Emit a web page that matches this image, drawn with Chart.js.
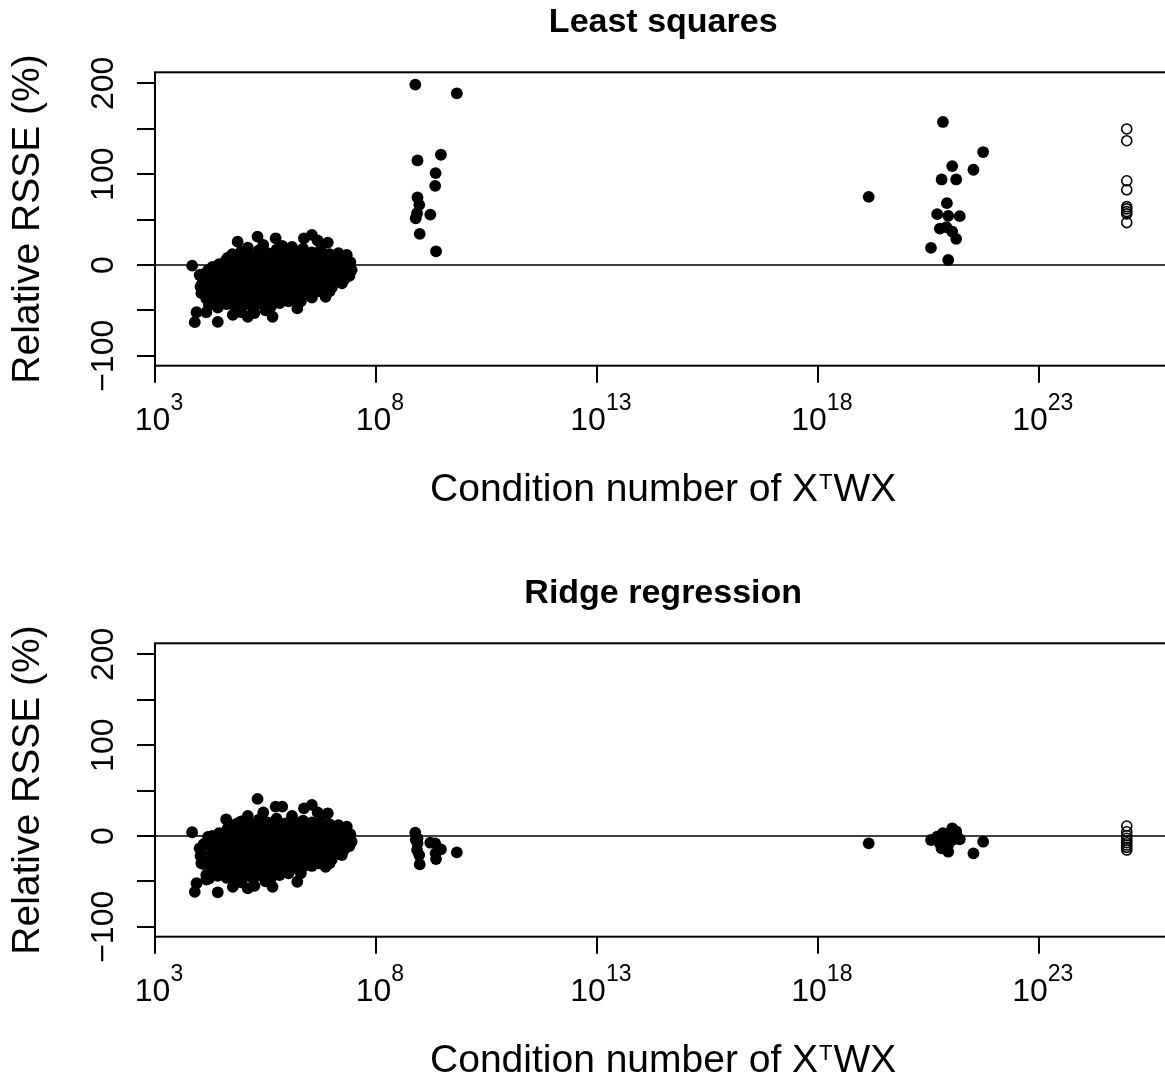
<!DOCTYPE html>
<html>
<head>
<meta charset="utf-8">
<script src="https://cdn.jsdelivr.net/npm/chart.js@4.4.1/dist/chart.umd.min.js"></script>
<style>
html, body { margin: 0; padding: 0; background: #fff; overflow: hidden; width: 1165px; height: 1078px; }
#wrap { position: relative; width: 1165px; height: 1078px; overflow: hidden; background: #fff; }
canvas { position: absolute; left: 0; }
#c1 { top: 0; }
#c2 { top: 571px; }
</style>
</head>
<body>
<div id="wrap">
  <canvas id="c1" width="1178" height="539"></canvas>
  <canvas id="c2" width="1178" height="507"></canvas>
</div>
<script>
// ---------------- DATA ----------------
// x values are stored as log10(condition number of X^T W X)

// well-conditioned problems (dense cluster), read row by row
const condWell = [
  4.87, 5.32, 5.45, 5.73, 5.88, 6.37, 6.55, 6.68, 6.91, 5.10, 6.10, 4.61,
  4.75, 4.95, 5.15, 5.35, 5.55, 5.75, 5.95, 6.15, 6.35, 6.55, 6.75, 6.95, 7.15, 7.34,
  4.65, 4.85, 5.05, 5.25, 5.45, 5.65, 5.85, 6.05, 6.25, 6.45, 6.65, 6.85, 7.05, 7.25,
  4.45, 4.62, 4.82, 5.02, 5.22, 5.42, 5.62, 5.82, 6.02, 6.22, 6.42, 6.62, 6.82, 7.02, 7.22, 7.42,
  4.30, 4.50, 4.70, 4.90, 5.10, 5.30, 5.50, 5.70, 5.90, 6.10, 6.30, 6.50, 6.70, 6.90, 7.10, 7.32,
  3.84, 4.20, 4.38, 4.55, 4.72, 4.92, 5.12, 5.32, 5.52, 5.72, 5.92, 6.12, 6.32, 6.52, 6.72, 6.92, 7.12, 7.30, 7.45,
  4.10, 4.28, 4.46, 4.64, 4.82, 5.00, 5.20, 5.40, 5.60, 5.80, 6.00, 6.20, 6.40, 6.60, 6.80, 7.00, 7.20, 7.38,
  4.01, 4.10, 4.30, 4.48, 4.68, 4.88, 5.08, 5.28, 5.48, 5.68, 5.88, 6.08, 6.28, 6.48, 6.68, 6.88, 7.08, 7.28, 7.40,
  4.06, 4.24, 4.42, 4.60, 4.78, 4.98, 5.18, 5.38, 5.58, 5.78, 5.98, 6.18, 6.38, 6.58, 6.78, 6.98, 7.18,
  4.03, 4.20, 4.40, 4.60, 4.80, 5.00, 5.20, 5.40, 5.60, 5.80, 6.00, 6.20, 6.40, 6.60, 6.80, 7.00, 7.23,
  4.10, 4.30, 4.50, 4.70, 4.90, 5.10, 5.30, 5.50, 5.70, 5.90, 6.10, 6.30, 6.50, 6.70, 6.95,
  4.05, 4.16, 4.35, 4.55, 4.75, 4.95, 5.15, 5.35, 5.55, 5.75, 5.95, 6.15, 6.35, 6.55, 6.86,
  4.25, 4.45, 4.65, 4.85, 5.05, 5.25, 5.45, 5.65, 5.85, 6.05, 6.30,
  4.22, 4.42, 4.62, 4.82, 5.02, 5.22, 5.42, 5.62, 5.82, 6.02, 6.22,
  3.94, 3.90, 4.16, 4.42, 4.76, 4.95, 5.10, 5.25, 5.50, 5.66
];
const lsWell = [
  25.7, 31.2, 22, 29.4, 21, 29.4, 33.1, 27, 24.6, 19, 20, 5.5,
  12, 15, 11, 16, 13, 17, 12, 15, 18, 14, 17, 12, 13, 11,
  8, 10, 7, 9, 11, 8, 9, 10, 7, 11, 9, 8, 10, 7,
  1, 4, 2, 6, 3, 5, 2, 6, 3, 5, 2, 6, 3, 5, 2, 3,
  -2, 0, -1, -3, 1, -2, 0, -1, -3, 0, -2, 1, -1, -2, 0, -1,
  -0.7, -6, -4, -8, -5, -9, -4, -7, -5, -9, -4, -8, -5, -9, -4, -7, -5, -8, -5.5,
  -10, -12, -9, -11, -13, -10, -12, -9, -11, -10, -13, -11, -9, -12, -10, -11, -9, -10,
  -11, -16, -14, -18, -13, -17, -15, -19, -14, -18, -15, -17, -13, -18, -14, -17, -13, -16, -12,
  -21, -19, -22, -20, -21, -19, -22, -20, -21, -20, -19, -22, -20, -21, -19, -21, -18,
  -24, -27, -23, -28, -24, -27, -23, -28, -25, -27, -23, -26, -24, -27, -23, -25, -20.2,
  -30, -31, -29, -32, -30, -31, -29, -32, -30, -31, -29, -30, -31, -29, -29,
  -31, -37, -34, -38, -33, -37, -34, -38, -33, -37, -34, -37, -33, -36, -35,
  -40, -42, -39, -41, -42, -40, -41, -39, -38, -37, -40,
  -44, -47, -43, -47, -44, -48, -43, -46, -42, -40, -47.8,
  -52, -63, -52, -62.6, -55, -52, -57, -53, -50, -57
];
const ridgeWell = [
  14, 40.8, 26, 32.3, 32.3, 30.5, 34.2, 26, 25, 22, 22, 18.4,
  12, 16, 14, 18, 15, 19, 14, 16, 17, 15, 16, 13, 12, 10.3,
  9, 11, 8, 12, 10, 9, 11, 9, 8, 10, 11, 9, 8, 7,
  3, 6, 5, 7, 4, 7, 3, 6, 5, 6, 3, 5, 4, 6, 3, 2,
  0, -2, 1, -1, -2, 0, 1, -3, -1, 0, -2, -1, 0, 1, -2, 0,
  4.1, -1, -6, -5, -7, -4, -8, -5, -9, -6, -5, -9, -4, -7, -5, -8, -4, -7, -6.3,
  -9, -11, -10, -12, -10, -11, -9, -12, -10, -13, -11, -10, -12, -9, -11, -10, -12, -9,
  -13.6, -10, -16, -13, -17, -14, -18, -15, -17, -13, -18, -15, -17, -14, -16, -13, -17, -15, -11,
  -20, -22, -19, -21, -20, -22, -19, -21, -20, -22, -21, -19, -21, -20, -22, -19, -19,
  -22, -30, -25, -27, -23, -28, -24, -27, -23, -28, -25, -27, -23, -26, -24, -26, -21,
  -31, -29, -32, -30, -31, -29, -31, -30, -32, -29, -30, -31, -29, -30, -30,
  -30, -43, -36, -35, -37, -34, -38, -35, -36, -34, -37, -35, -34, -33, -33.9,
  -41, -39, -42, -40, -41, -42, -40, -41, -39, -38, -41,
  -47, -44, -46, -48, -45, -47, -44, -47, -43, -41, -50.4,
  -52, -61.5, -48, -62, -56, -51, -57.7, -55, -50, -56
];

// moderately ill-conditioned problems (~1e9)
const condModerate  = [8.89, 9.83, 9.47, 8.94, 9.35, 9.34, 8.94, 8.98, 8.93, 9.23, 8.90, 8.99, 9.36];
const lsModerate    = [198.7, 189.1, 121.4, 115.1, 101.2, 87.2, 74.3, 66.2, 57.0, 55.5, 51.5, 34.2, 15.1];
const ridgeModerate = [3.7, -18.0, -14.7, -2.6, -19.1, -8.1, -8.1, -21, -15.5, -7.4, -4, -31.3, -25.4];

// severely ill-conditioned problems (~1e21)
const condSevere  = [19.15, 20.83, 21.74, 21.04, 21.52, 20.80, 21.13, 20.92, 20.70, 20.95, 21.21, 20.76, 20.91, 21.04, 21.13, 20.56, 20.95];
const lsSevere    = [75.1, 157.5, 124.4, 108.9, 104.9, 94.2, 94.2, 68.1, 56.0, 54.1, 53.8, 40.1, 41.6, 36.8, 28.7, 18.8, 5.5];
const ridgeSevere = [-8.1, 3.0, -6.3, 8.5, -19.1, -13.6, 3.0, -6.3, -0.7, -17.3, -3.6, -8.1, 1, -4.4, 5, -4.4, -10];

// singular problems (open circles, plotted at the right edge)
const condSingular  = [24.99, 24.99, 24.99, 24.99, 24.99, 24.99, 24.99, 24.99, 24.99];
const lsSingular    = [149.8, 136.9, 92.7, 82.8, 64.3, 61.8, 58.8, 56.3, 46.7];
const ridgeSingular = [11.0, 4.7, 0.5, -2.5, -5, -7.4, -10, -12.5, -15.5];

// axes
const xTickExponents = [3, 8, 13, 18, 23];
const yTickValues = [-100, -50, 0, 50, 100, 150, 200];
const yLabelValues = [-100, 0, 100, 200];
const xRangeExp = [3, 26];
const yRange = [-110.9, 212.2];
const panelTitles = ['Least squares', 'Ridge regression'];
const xAxisTitle = ['Condition number of X', 'T', 'WX'];
const yAxisTitle = 'Relative RSSE (%)';

// ---------------- CHART ----------------
const FONT = '"Liberation Sans", Arial, Helvetica, sans-serif';
Chart.defaults.font.family = FONT;
Chart.defaults.color = '#000';

function toPoints(xs, ys) {
  return xs.map((e, i) => ({ x: Math.pow(10, e), y: ys[i] }));
}
function fmtNum(v) { return v < 0 ? '\u2212' + Math.abs(v) : String(v); }

const rStyle = {
  id: 'rStyle',
  beforeDatasetsDraw(chart) {
    const { ctx, chartArea: a, scales: { y } } = chart;
    const y0 = y.getPixelForValue(0);
    ctx.save();
    ctx.strokeStyle = '#000';
    ctx.lineWidth = 1.6;
    ctx.beginPath();
    ctx.moveTo(a.left, y0);
    ctx.lineTo(a.right, y0);
    ctx.stroke();
    ctx.restore();
  },
  afterDraw(chart) {
    const { ctx, chartArea: a, scales: { x, y } } = chart;
    ctx.save();
    // box
    ctx.strokeStyle = '#000';
    ctx.lineWidth = 2;
    ctx.strokeRect(a.left, a.top, a.right - a.left, a.bottom - a.top);
    ctx.fillStyle = '#000';
    // y tick labels (parallel to axis)
    ctx.font = '32px ' + FONT;
    ctx.textAlign = 'center';
    ctx.textBaseline = 'alphabetic';
    yLabelValues.forEach(v => {
      const py = y.getPixelForValue(v);
      ctx.save();
      ctx.translate(a.left - 42, py);
      ctx.rotate(-Math.PI / 2);
      ctx.fillText(fmtNum(v), 0, 0);
      ctx.restore();
    });
    // x tick labels 10^e
    ctx.textAlign = 'left';
    xTickExponents.forEach(e => {
      const px = x.getPixelForValue(Math.pow(10, e));
      ctx.font = '32px ' + FONT;
      const wb = ctx.measureText('10').width;
      ctx.font = '23px ' + FONT;
      const we = ctx.measureText(String(e)).width;
      const start = px - (wb + we) / 2 + 4;
      ctx.font = '32px ' + FONT;
      ctx.fillText('10', start, a.bottom + 64.3);
      ctx.font = '23px ' + FONT;
      ctx.fillText(String(e), start + wb, a.bottom + 44.3);
    });
    // x axis title with superscript T
    const big = '39px ' + FONT, small = '22px ' + FONT;
    ctx.font = big;
    const w1 = ctx.measureText(xAxisTitle[0]).width;
    const w3 = ctx.measureText(xAxisTitle[2]).width;
    ctx.font = small;
    const w2 = ctx.measureText(xAxisTitle[1]).width;
    const total = w1 + w2 + w3 + 2;
    let sx = (a.left + a.right) / 2 - total / 2;
    const base = a.bottom + 135.5;
    ctx.font = big;
    ctx.fillText(xAxisTitle[0], sx, base);
    ctx.font = small;
    ctx.fillText(xAxisTitle[1], sx + w1 + 1, base - 12);
    ctx.font = big;
    ctx.fillText(xAxisTitle[2], sx + w1 + w2 + 2, base);
    ctx.restore();
  }
};

function makeChart(id, title, yWell, yModerate, ySevere, ySingular) {
  const canvas = document.getElementById(id);
  const H = canvas.height;
  const filled = [].concat(
    toPoints(condWell, yWell),
    toPoints(condModerate, yModerate),
    toPoints(condSevere, ySevere)
  );
  const open = toPoints(condSingular, ySingular);
  return new Chart(canvas, {
    type: 'scatter',
    data: {
      datasets: [
        { label: 'finite condition number', data: filled, pointRadius: 5.9, pointBackgroundColor: '#000', pointBorderColor: '#000', pointBorderWidth: 0 },
        { label: 'singular', data: open, pointRadius: 5.0, pointBackgroundColor: 'rgba(0,0,0,0)', pointBorderColor: '#000', pointBorderWidth: 1.6 }
      ]
    },
    options: {
      responsive: false,
      animation: false,
      events: [],
      layout: { padding: 0 },
      plugins: {
        legend: { display: false },
        tooltip: { enabled: false },
        title: {
          display: true, text: title, fullSize: false, color: '#000',
          font: { family: FONT, size: 34, weight: 'bold', lineHeight: 1.2 },
          padding: { top: 1.8, bottom: 29.7 }
        }
      },
      scales: {
        x: {
          type: 'logarithmic',
          position: 'bottom',
          min: Math.pow(10, xRangeExp[0]),
          max: Math.pow(10, xRangeExp[1]),
          afterBuildTicks: s => { s.ticks = xTickExponents.map(e => ({ value: Math.pow(10, e) })); },
          afterFit: s => { s.height = H - 365.7; },
          ticks: { display: false },
          border: { display: false },
          grid: { display: true, drawOnChartArea: false, drawTicks: true, tickLength: 17, tickColor: '#000', tickWidth: 2, lineWidth: 2, color: '#000' },
          title: { display: false }
        },
        y: {
          type: 'linear',
          position: 'left',
          min: yRange[0],
          max: yRange[1],
          afterBuildTicks: s => { s.ticks = yTickValues.map(v => ({ value: v })); },
          afterFit: s => { s.width = 155; },
          ticks: { display: false },
          border: { display: false },
          grid: { display: true, drawOnChartArea: false, drawTicks: true, tickLength: 18, tickColor: '#000', tickWidth: 2, lineWidth: 2, color: '#000' },
          title: {
            display: true, text: yAxisTitle, color: '#000',
            font: { family: FONT, size: 39, lineHeight: 1.2 },
            padding: { top: 4.6, bottom: 0 }
          }
        }
      }
    },
    plugins: [rStyle]
  });
}

makeChart('c1', panelTitles[0], lsWell, lsModerate, lsSevere, lsSingular);
makeChart('c2', panelTitles[1], ridgeWell, ridgeModerate, ridgeSevere, ridgeSingular);
</script>
</body>
</html>
